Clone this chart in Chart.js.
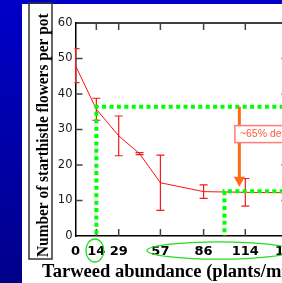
<!DOCTYPE html>
<html>
<head>
<meta charset="utf-8">
<script src="https://cdn.jsdelivr.net/npm/chart.js@4/dist/chart.umd.min.js"></script>
<style>
  html, body { margin: 0; padding: 0; overflow: hidden; background: #fff; }
  #wrap { position: relative; width: 300px; height: 283px; }
</style>
</head>
<body>
<div id="wrap"><canvas id="chart"></canvas></div>
<script>
// tarweed density vs starthistle flowers (mean +/- se)
const abundance = [0, 14, 29, 43, 57, 86, 114, 143];
const flowers   = [48, 35.7, 28.2, 23.2, 15, 12.5, 12.3, 12.2];
const flowerErr = [4.8, 3.1, 5.6, 0.3, 7.8, 1.9, 3.9, 3.5];
const xTicks = [0, 14, 29, 57, 86, 114, 143];
const yTicks = [0, 10, 20, 30, 40, 50, 60];

// green guide lines (corner in data units) and the arrow
const guideHigh = [14, 36.4];
const guideLow  = [100, 12.6];
const arrowX = 110, arrowTop = 36.4, arrowTip = 13.9;
const dropLabel = '~65% decrease';
const dropLabelAt = [107, 31.1];
// circled tick labels, as ranges of x
const circleSmall = [7, 19];
const circleBig   = [48, 145];

const W = 300, H = 283;

const slide = {
  id: 'slide',
  beforeDraw(chart) {
    const ctx = chart.ctx;
    ctx.save();
    ctx.fillStyle = '#fff';
    ctx.fillRect(0, 0, W, H);
    const g = ctx.createLinearGradient(0, 0, 0, H);
    g.addColorStop(0, '#0000c8');
    g.addColorStop(1, '#00008a');
    ctx.fillStyle = g;
    ctx.fillRect(0, 0, 22, H);
    ctx.fillStyle = '#0000c6';
    ctx.fillRect(0, 0, W, 4);
    ctx.restore();
  },
  afterDatasetsDraw(chart) {
    const ctx = chart.ctx, a = chart.chartArea;
    const xs = chart.scales.x, ys = chart.scales.y;
    ctx.save();

    // frame (top and right) + inward ticks
    ctx.strokeStyle = '#000';
    ctx.lineWidth = 1.5;
    ctx.beginPath();
    ctx.moveTo(a.left, a.top); ctx.lineTo(a.right, a.top); ctx.lineTo(a.right, a.bottom);
    ctx.stroke();
    ctx.strokeStyle = '#444';
    ctx.beginPath();
    yTicks.slice(1, -1).forEach(v => {
      const py = ys.getPixelForValue(v);
      ctx.moveTo(a.left, py); ctx.lineTo(a.left + 7, py);
      ctx.moveTo(a.right, py); ctx.lineTo(a.right - 7, py);
    });
    xTicks.slice(1, -1).forEach(v => {
      const px = xs.getPixelForValue(v);
      ctx.moveTo(px, a.bottom); ctx.lineTo(px, a.bottom - 7);
      ctx.moveTo(px, a.top); ctx.lineTo(px, a.top + 7);
    });
    ctx.stroke();

    // error bars
    ctx.save();
    ctx.beginPath();
    ctx.rect(a.left - 1, a.top, a.right - a.left + 2, a.bottom - a.top);
    ctx.clip();
    ctx.strokeStyle = '#f21a1a';
    ctx.lineWidth = 1.2;
    abundance.forEach((x, i) => {
      const px = xs.getPixelForValue(x);
      const hi = ys.getPixelForValue(flowers[i] + flowerErr[i]);
      const lo = ys.getPixelForValue(flowers[i] - flowerErr[i]);
      ctx.beginPath();
      ctx.moveTo(px, hi); ctx.lineTo(px, lo);
      ctx.moveTo(px - 4, hi); ctx.lineTo(px + 4, hi);
      ctx.moveTo(px - 4, lo); ctx.lineTo(px + 4, lo);
      ctx.stroke();
    });
    ctx.restore();

    // green dotted guides
    ctx.strokeStyle = '#00ff00';
    ctx.lineWidth = 4;
    ctx.setLineDash([4, 3.4]);
    [guideHigh, guideLow].forEach(([gx, gy]) => {
      const px = xs.getPixelForValue(gx), py = ys.getPixelForValue(gy);
      ctx.beginPath();
      ctx.moveTo(a.right + 10, py); ctx.lineTo(px, py); ctx.lineTo(px, a.bottom);
      ctx.stroke();
    });
    ctx.setLineDash([]);

    // arrow
    const ax = xs.getPixelForValue(arrowX);
    const aTop = ys.getPixelForValue(arrowTop), aTip = ys.getPixelForValue(arrowTip);
    ctx.strokeStyle = '#ff6a13';
    ctx.fillStyle = '#ff6a13';
    ctx.lineWidth = 3;
    ctx.beginPath();
    ctx.moveTo(ax, aTop); ctx.lineTo(ax, aTip - 9);
    ctx.stroke();
    ctx.beginPath();
    ctx.moveTo(ax - 5.5, aTip - 10); ctx.lineTo(ax + 5.5, aTip - 10); ctx.lineTo(ax, aTip);
    ctx.closePath();
    ctx.fill();

    // label box
    const lx = xs.getPixelForValue(dropLabelAt[0]), ly = ys.getPixelForValue(dropLabelAt[1]);
    ctx.font = '10.5px "Liberation Sans", Arial, sans-serif';
    const tw = ctx.measureText(dropLabel).width;
    ctx.fillStyle = '#fff';
    ctx.fillRect(lx, ly, tw + 10, 17);
    ctx.strokeStyle = '#ff7a7a';
    ctx.lineWidth = 1.5;
    ctx.strokeRect(lx, ly, tw + 10, 17);
    ctx.fillStyle = '#ff5a3a';
    ctx.textBaseline = 'middle';
    ctx.fillText(dropLabel, lx + 5, ly + 9);
    ctx.restore();
  },
  afterDraw(chart) {
    const ctx = chart.ctx, a = chart.chartArea, xs = chart.scales.x;
    ctx.save();
    // circles round tick labels
    ctx.strokeStyle = '#22dd22';
    ctx.lineWidth = 1.3;
    [[circleSmall, 11.5], [circleBig, 8.7]].forEach(([r, ry]) => {
      const x0 = xs.getPixelForValue(r[0]), x1 = xs.getPixelForValue(r[1]);
      ctx.beginPath();
      ctx.ellipse((x0 + x1) / 2, a.bottom + 14.5, (x1 - x0) / 2, ry, 0, 0, Math.PI * 2);
      ctx.stroke();
    });

    // axis titles
    ctx.fillStyle = '#000';
    ctx.textBaseline = 'alphabetic';
    ctx.save();
    ctx.translate(42, 277);
    ctx.scale(1.03, 1);
    ctx.font = 'bold 18px "Liberation Serif", "Times New Roman", serif';
    const xt = 'Tarweed abundance (plants/m';
    ctx.fillText(xt, 0, 0);
    const xw = ctx.measureText(xt).width;
    ctx.font = 'bold 11px "Liberation Serif", serif';
    ctx.fillText('2', xw, -7);
    ctx.font = 'bold 18px "Liberation Serif", serif';
    ctx.fillText(')', xw + 6, 0);
    ctx.restore();

    ctx.strokeStyle = '#333';
    ctx.lineWidth = 1.5;
    ctx.strokeRect(29, 3, 23, 256);
    ctx.translate(47.5, 257);
    ctx.rotate(-Math.PI / 2);
    ctx.scale(0.96, 1.05);
    ctx.font = 'bold 16px "Liberation Serif", "Times New Roman", serif';
    ctx.fillText('Number of starthistle flowers per pot', 0, 0);
    ctx.restore();
  }
};

new Chart(document.getElementById('chart'), {
  type: 'line',
  data: {
    datasets: [{
      data: abundance.map((x, i) => ({ x: x, y: flowers[i] })),
      borderColor: '#ff1010',
      borderWidth: 1,
      pointRadius: 0,
      tension: 0
    }]
  },
  options: {
    responsive: true,
    maintainAspectRatio: false,
    devicePixelRatio: 1,
    animation: false,
    layout: { padding: { left: 0, top: 23, right: W - 288.5, bottom: 0 } },
    plugins: { legend: { display: false }, tooltip: { enabled: false } },
    scales: {
      x: {
        type: 'linear',
        min: 0,
        max: 143,
        afterBuildTicks: s => { s.ticks = xTicks.map(v => ({ value: v })); },
        afterFit: s => { s.height = 47; s.paddingLeft = 0; s.paddingRight = 0; },
        grid: { display: false, drawTicks: false },
        border: { display: true, color: '#000', width: 1.5 },
        ticks: {
          autoSkip: false,
          maxRotation: 0,
          padding: 8,
          color: '#000',
          font: { family: '"DejaVu Sans", sans-serif', size: 13, weight: 'bold' }
        }
      },
      y: {
        min: 0,
        max: 60,
        afterBuildTicks: s => { s.ticks = yTicks.map(v => ({ value: v })); },
        afterFit: s => { s.width = 75.5; s.paddingTop = 0; s.paddingBottom = 0; },
        grid: { display: false, drawTicks: false },
        border: { display: true, color: '#000', width: 1.5 },
        ticks: {
          padding: 3,
          color: '#1a1a1a',
          font: { family: '"DejaVu Sans", sans-serif', size: 11.5 }
        }
      }
    }
  },
  plugins: [slide]
});
</script>
</body>
</html>
